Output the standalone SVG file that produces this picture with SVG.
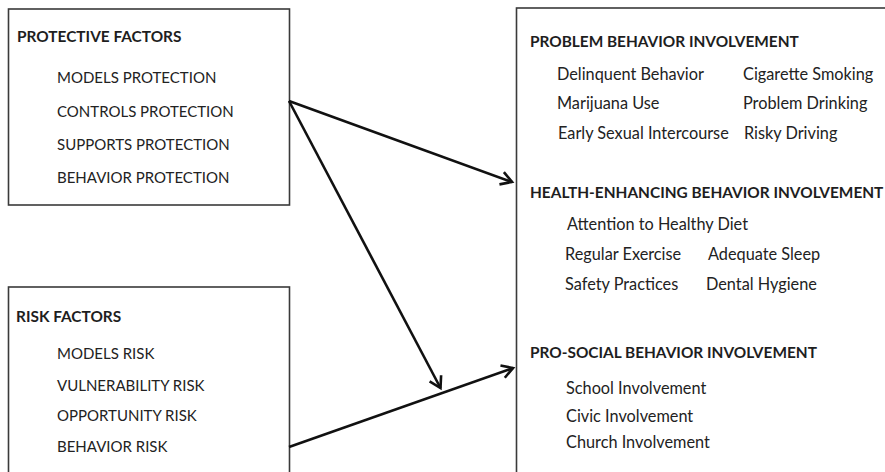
<svg xmlns="http://www.w3.org/2000/svg" width="885" height="472" viewBox="0 0 885 472">
  <style>
    .box { fill: #ffffff; stroke: #3a3a3a; stroke-width: 1.6; }
    .head { font-family: Lato, "Open Sans", "Liberation Sans", sans-serif; font-weight: bold; font-size: 15.4px; fill: #1e1e1e; }
    .item { font-family: Lato, "Open Sans", "Liberation Sans", sans-serif; font-size: 16.3px; fill: #222222; }
    .cap { font-family: Lato, "Open Sans", "Liberation Sans", sans-serif; font-size: 15px; fill: #222222; }
    .link { fill: none; stroke: #111111; stroke-width: 2.6; marker-end: url(#arrow); }
  </style>
  <defs>
    <marker id="arrow" viewBox="0 0 16 16" refX="13" refY="8" markerWidth="16" markerHeight="16" markerUnits="userSpaceOnUse" orient="auto">
      <path d="M2,1.5 L13,8 L2,14.5" fill="none" stroke="#111111" stroke-width="2.6" stroke-linejoin="miter"/>
    </marker>
  </defs>
  <rect width="885" height="472" fill="#ffffff"/>

  <g id="protective-factors">
    <rect class="box" x="8.5" y="9" width="281" height="196"/>
    <text class="head" x="17" y="42">PROTECTIVE FACTORS</text>
    <text class="cap" x="57" y="83">MODELS PROTECTION</text>
    <text class="cap" x="57" y="116.5">CONTROLS PROTECTION</text>
    <text class="cap" x="57" y="150">SUPPORTS PROTECTION</text>
    <text class="cap" x="57" y="183">BEHAVIOR PROTECTION</text>
  </g>

  <g id="risk-factors">
    <rect class="box" x="8.5" y="287" width="281" height="200"/>
    <text class="head" x="16" y="322">RISK FACTORS</text>
    <text class="cap" x="57" y="359">MODELS RISK</text>
    <text class="cap" x="57" y="391">VULNERABILITY RISK</text>
    <text class="cap" x="57" y="421">OPPORTUNITY RISK</text>
    <text class="cap" x="57" y="452">BEHAVIOR RISK</text>
  </g>

  <g id="outcomes">
    <rect class="box" x="516.5" y="8" width="380" height="480"/>
    <text class="head" x="530" y="47">PROBLEM BEHAVIOR INVOLVEMENT</text>
    <text class="item" x="557" y="80">Delinquent Behavior</text>
    <text class="item" x="743" y="80">Cigarette Smoking</text>
    <text class="item" x="557" y="109">Marijuana Use</text>
    <text class="item" x="743" y="109">Problem Drinking</text>
    <text class="item" x="558" y="139">Early Sexual Intercourse</text>
    <text class="item" x="744" y="139">Risky Driving</text>

    <text class="head" x="530" y="198">HEALTH-ENHANCING BEHAVIOR INVOLVEMENT</text>
    <text class="item" x="567" y="230">Attention to Healthy Diet</text>
    <text class="item" x="565" y="260">Regular Exercise</text>
    <text class="item" x="708" y="260">Adequate Sleep</text>
    <text class="item" x="565" y="290">Safety Practices</text>
    <text class="item" x="706" y="290">Dental Hygiene</text>

    <text class="head" x="530" y="358">PRO-SOCIAL BEHAVIOR INVOLVEMENT</text>
    <text class="item" x="566" y="394">School Involvement</text>
    <text class="item" x="566" y="422">Civic Involvement</text>
    <text class="item" x="566" y="448">Church Involvement</text>
  </g>

  <g id="connectors">
    <line class="link" x1="289" y1="101" x2="512" y2="182"/>
    <line class="link" x1="289" y1="101" x2="440.5" y2="388"/>
    <line class="link" x1="289" y1="447" x2="513" y2="368"/>
  </g>
</svg>
